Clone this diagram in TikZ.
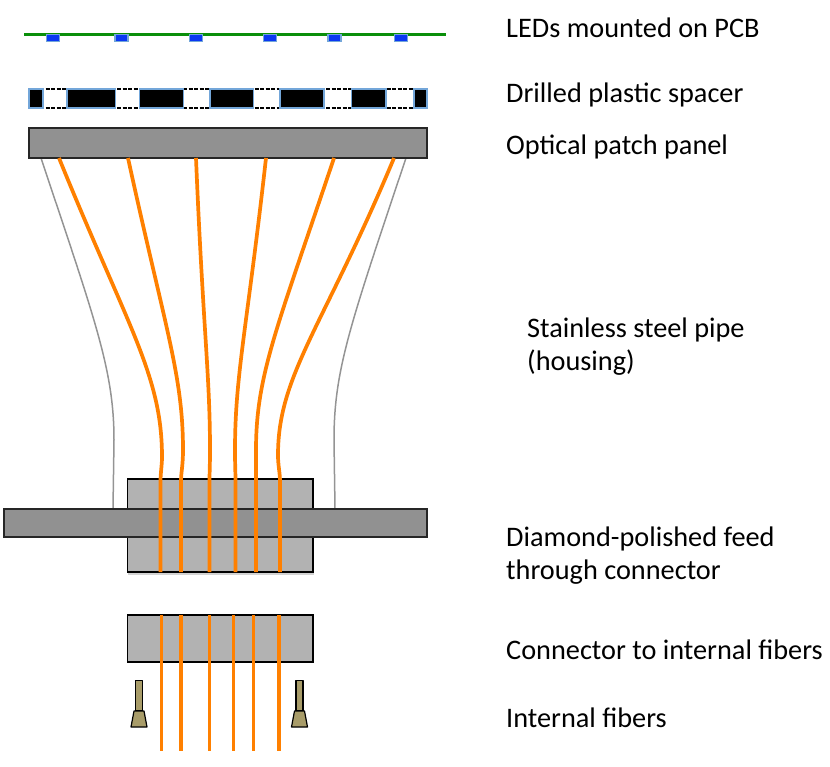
\documentclass[tikz,border=0pt]{standalone}
\usepackage{fontspec}
\setmainfont{Carlito}
\usetikzlibrary{shadows}
\definecolor{fiber}{rgb}{1,0.5,0}
\definecolor{pcb}{rgb}{0.04,0.56,0.04}
\definecolor{ledblue}{rgb}{0.04,0.22,0.95}
\definecolor{ledrim}{rgb}{0.45,0.65,0.85}
\definecolor{panelgray}{gray}{0.57}
\definecolor{conngray}{gray}{0.70}
\definecolor{khaki}{rgb}{0.66,0.61,0.41}
\tikzset{
    panel/.style = {draw=black!85, line width=1.2pt, fill=panelgray, inner sep=0pt},
    conn/.style = {draw=black, line width=1.2pt, fill=conngray, inner sep=0pt},
    led/.style = {draw=ledrim, line width=1.2pt, fill=ledblue, inner sep=0pt, minimum width=13pt, minimum height=7pt},
    spacer/.style = {draw=ledrim, line width=1.3pt, fill=black},
    gapline/.style = {dash pattern=on 4pt off 1.5pt, line width=1.2pt},
    fib/.style = {draw=fiber, line width=3.7pt},
    pipe/.style = {draw=black!42, line width=1.5pt},
    lbl/.style = {anchor=west, inner sep=0pt, align=left, font=\fontsize{28.3}{33}\selectfont},
    plug/.style = {draw=black, line width=1.2pt, fill=khaki, line join=round}
}

\begin{document}
\begin{tikzpicture}[line cap=butt,line join=miter,x=1pt,y=-1pt]
    \useasboundingbox (0,0) rectangle (830,767);

    % PCB and LEDs
    \draw [draw=pcb, line width=3.6pt] (24,34.5) -- (446,34.5);
    \foreach \x/\n in {53/1,121.5/2,196/3,270/4,334.5/5,401/6}
        \node [led] (led\n) at (\x,38.3) {};

    % spacer
    \draw [gapline] (29,89) -- (427,89);
    \draw [gapline] (29,108) -- (427,108);
    \foreach \a/\b in {29/43,67/115.5,139.5/183.5,210/253.5,280/324,351.5/386,414/427}
        \draw [spacer] (\a,89) rectangle (\b,108);

    % housing
    \coordinate (pipeL) at (41,158);
    \coordinate (pipeR) at (406,158);
    \coordinate (feedL) at (113,509);
    \coordinate (feedR) at (335,509);
    \draw [pipe] (pipeL) .. controls (95,320) and (114,370) .. (114,440) -- (feedL);
    \draw [pipe] (pipeR) .. controls (350,325) and (334,370) .. (334,440) -- (feedR);

    % connectors and panels
    \node [conn, minimum width=185.5pt, minimum height=93pt, drop shadow={shadow xshift=0.5pt, shadow yshift=-3pt, opacity=0.35}] (feed) at (220.25,525.5) {};
    \node [panel, minimum width=423pt, minimum height=28pt] (wall) at (215.5,523) {};
    \node [panel, minimum width=398pt, minimum height=30pt] (patch) at (228,143) {};
    \node [conn, minimum width=185.5pt, minimum height=47pt] (inner) at (220.25,638.5) {};

    % fibers
    \foreach \n/\t/\ax/\bx/\mx/\my/\e in {
        1/59/128/162/162/457/160.5,
        2/128/165/183/183/450/181,
        3/196/203/210/210/450/209.5,
        4/266/247/235/235/450/235.5,
        5/334/277/256/256/450/256,
        6/394/323/278/278/455/280}{
        \coordinate (ftop\n) at (\t,158);
        \coordinate (fbot\n) at (\e,572);
        \draw [fib] (ftop\n) .. controls (\ax,328) and (\bx,375) .. (\mx,\my) .. controls (\mx,466) and (\e,472) .. (\e,482) -- (fbot\n);
    }
    \foreach \n/\x in {1/161.5,2/181,3/209.5,4/233.5,5/253.5,6/279}{
        \coordinate (itop\n) at (\x,615);
        \coordinate (ibot\n) at (\x,751);
        \draw [fib] (itop\n) -- (ibot\n);
    }

    % small plugs
    \foreach \x in {139,299.5}{
        \draw [plug] (\x-3.5,680.5) rectangle (\x+3.5,711);
        \draw [plug] (\x-5,711) -- (\x+5,711) -- (\x+8,727) -- (\x-8,727) -- cycle;
    }

    % labels
    \node [lbl] (lblled) at (506,28) {LEDs mounted on PCB};
    \node [lbl] (lblspacer) at (506,95) {Drilled plastic spacer};
    \node [lbl] (lblpatch) at (506,146.5) {Optical patch panel};
    \node [lbl] (lblpipe) at (527,346.5) {Stainless steel pipe\\(housing)};
    \node [lbl] (lblfeed) at (506,555.5) {Diamond-polished feed\\through connector};
    \node [lbl] (lblinner) at (506,650) {Connector to internal fibers};
    \node [lbl] (lblfibers) at (506,718) {Internal fibers};
\end{tikzpicture}
\end{document}
